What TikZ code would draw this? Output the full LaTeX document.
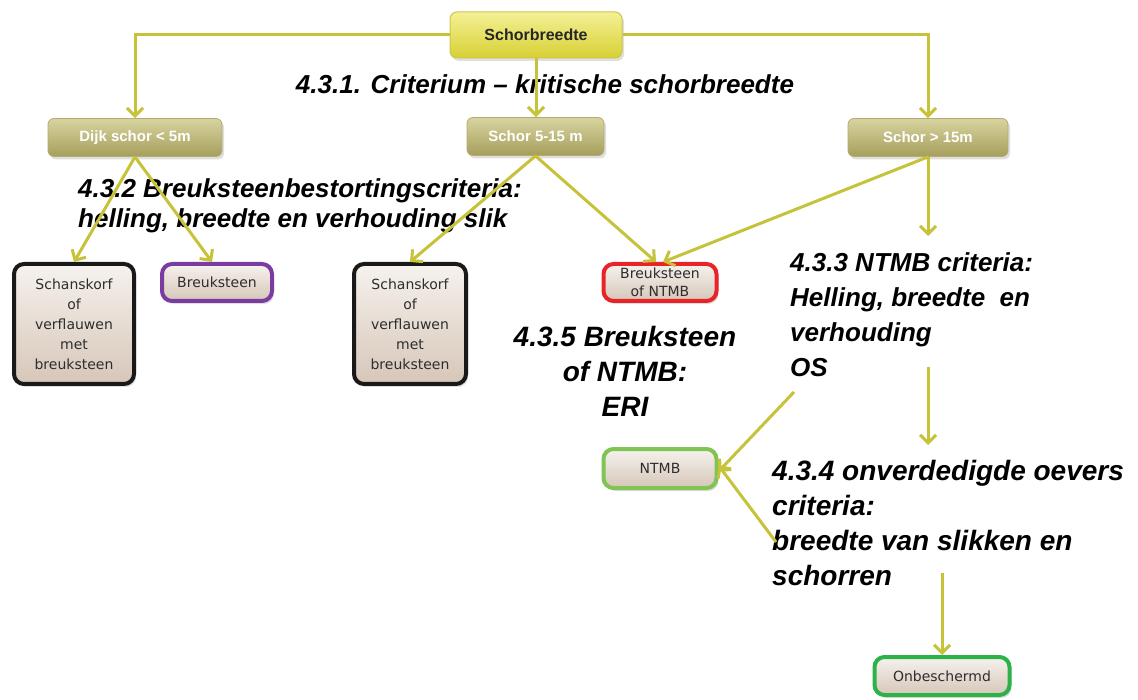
\documentclass[tikz,border=0pt]{standalone}
\usepackage{fontspec}
\setmainfont{Liberation Sans}
\newfontfamily\verd{DejaVu Sans}
\usetikzlibrary{arrows.meta,shadows,calc}
\definecolor{arr}{RGB}{198,194,58}
\definecolor{topT}{RGB}{244,240,150}
\definecolor{topB}{RGB}{216,208,52}
\definecolor{topD}{RGB}{205,198,70}
\definecolor{catT}{RGB}{216,212,160}
\definecolor{catB}{RGB}{166,158,92}
\definecolor{catD}{RGB}{180,172,110}
\definecolor{leafT}{RGB}{246,242,238}
\definecolor{leafB}{RGB}{214,198,184}
\definecolor{txt}{RGB}{45,45,45}
\definecolor{bblack}{RGB}{25,25,25}
\definecolor{bpurple}{RGB}{122,60,160}
\definecolor{bred}{RGB}{232,36,40}
\definecolor{blgreen}{RGB}{128,196,84}
\definecolor{bdgreen}{RGB}{44,178,72}
\begin{document}
\begin{tikzpicture}[x=1pt,y=-1pt,
  conn/.style={draw=arr,line width=3pt,-{Straight Barb[length=8pt,width=16pt]}},
  shad/.style={drop shadow={opacity=0.25,shadow xshift=2pt,shadow yshift=-3pt}},
  topbox/.style={rounded corners=7pt,top color=topT,bottom color=topB,draw=topD,line width=1pt,
    minimum width=172pt,minimum height=46pt,inner sep=0pt,text=black!85,
    font=\bfseries\fontsize{16}{19}\selectfont,shad},
  cat/.style={rounded corners=6pt,top color=catT,bottom color=catB,draw=catD,line width=0.8pt,
    minimum height=38pt,inner sep=0pt,text=white,font=\bfseries\fontsize{15}{18}\selectfont,shad},
  leaf/.style={rounded corners=10pt,top color=leafT,bottom color=leafB,line width=4pt,text=txt,
    font=\verd\fontsize{14}{20}\selectfont,align=center,inner sep=0pt,shad},
  lbl/.style={font=\bfseries\itshape\fontsize{26}{35}\selectfont,inner sep=1pt,text=black},
  lblbig/.style={lbl,font=\bfseries\itshape\fontsize{28}{35}\selectfont},
]
\useasboundingbox[fill=white] (0,0) rectangle (1138,700);

% top
\node[topbox] (top) at (536,35) {Schorbreedte};
% categories
\node[cat,minimum width=174pt] (dijk) at (135,137.5) {Dijk schor < 5m};
\node[cat,minimum width=137pt] (s515) at (535.5,136.5) {Schor 5-15 m};
\node[cat,minimum width=160pt] (s15) at (928,137.5) {Schor > 15m};
% leaves
\node[leaf,draw=bblack,minimum width=120pt,minimum height=120pt] (sch1) at (74,324)
  {Schanskorf\\of\\verflauwen\\met\\breuksteen};
\node[leaf,draw=bpurple,minimum width=110pt,minimum height=37pt] (bst) at (217,282.5) {Breuksteen};
\node[leaf,draw=bblack,minimum width=112pt,minimum height=120pt] (sch2) at (410,324)
  {Schanskorf\\of\\verflauwen\\met\\breuksteen};
\node[leaf,draw=bred,minimum width=113pt,minimum height=37pt,font=\verd\fontsize{14}{18}\selectfont] (red) at (660,282.5)
  {Breuksteen\\of NTMB};
\node[leaf,draw=blgreen,minimum width=113pt,minimum height=39pt] (ntmb) at (660,468.5) {NTMB};
\node[leaf,draw=bdgreen,minimum width=135pt,minimum height=38pt] (onb) at (942,676) {Onbeschermd};

% labels
\node[lbl,anchor=north] (l431) at (545,73) {4.3.1. Criterium -- kritische schorbreedte};
\node[lbl,anchor=north west,align=left,font=\bfseries\itshape\fontsize{26}{30}\selectfont] (l432) at (77,177)
  {4.3.2 Breuksteenbestortingscriteria:\\helling, breedte en verhouding slik};
\node[lbl,anchor=north west,align=left] (l433) at (789,251)
  {4.3.3 NTMB criteria:\\Helling, breedte\ \ en\\verhouding\\OS};
\node[lblbig,anchor=north,align=center] (l435) at (625,325.5)
  {4.3.5 Breuksteen\\of NTMB:\\ERI};
\node[lblbig,anchor=north west,align=left] (l434) at (771,459.5)
  {4.3.4 onverdedigde oevers\\criteria:\\breedte van slikken en\\schorren};

% free ends
\coordinate (a433) at (928,236);
\coordinate (b433) at (928,367);
\coordinate (a434) at (928,445);
\coordinate (c433) at (794,392);
\coordinate (c434) at (776,542);
\coordinate (d434) at (942,573);

% connectors (drawn over the labels, as in the reference)
\draw[conn] (top.west) -| (dijk.north);
\draw[conn] (top.east) -| (s15.north);
\draw[conn] (top.south) -- (top.south |- s515.north);
\draw[conn] (dijk.south) -- (sch1.north);
\draw[conn] (dijk.south) -- ([xshift=-5pt]bst.north);
\draw[conn] (s515.south) -- (sch2.north);
\draw[conn] (s515.south) -- ([xshift=-4pt]red.north);
\draw[conn] (s15.south) -- ([xshift=3pt]red.north);
\draw[conn] (s15.south) -- (a433);
\draw[conn] (b433) -- (a434);
\draw[conn] (c433) -- ([yshift=-3pt]ntmb.east);
\draw[conn] (c434) -- ([yshift=3pt]ntmb.east);
\draw[conn] (d434) -- (onb.north);
\end{tikzpicture}
\end{document}
